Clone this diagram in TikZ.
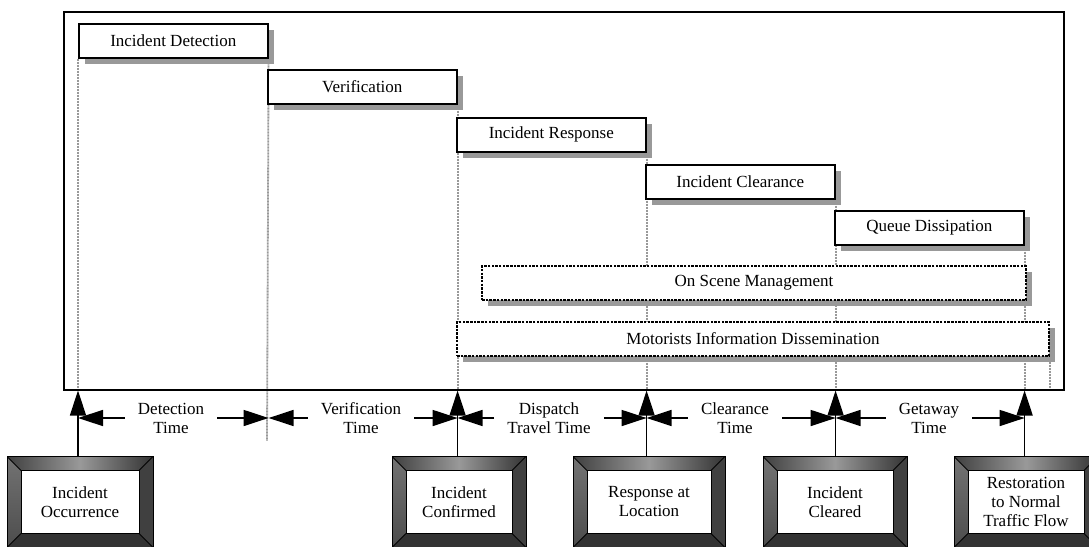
\documentclass[tikz,border=0pt]{standalone}
\usepackage{fontspec}
\setmainfont{Liberation Serif}
\usepackage{tikz}
\usetikzlibrary{arrows.meta}
\usetikzlibrary{calc}
\usetikzlibrary{shadows}
\usetikzlibrary{backgrounds}
\tikzstyle{phase}=[draw, line width=1.6pt, fill=white, minimum width=189pt, minimum height=34pt, anchor=north west, inner sep=0pt, drop shadow={shadow xshift=6pt, shadow yshift=-6pt, fill=black!40, opacity=1}]
\tikzstyle{dphase}=[phase, line width=2pt, dash pattern=on 2.5pt off 1.2pt]
\tikzstyle{evline}=[draw=black!40, line width=1.8pt, dash pattern=on 1pt off 0.5pt]
\tikzstyle{timearrow}=[line width=1.5pt, -{Triangle[length=25pt, width=16pt]}]
\tikzstyle{spanlabel}=[align=center, inner xsep=13pt, inner ysep=0pt]
\tikzstyle{milestone}=[draw, line width=1pt, fill=white, anchor=north, minimum height=91pt, align=center, path picture={
    \coordinate (nw) at (path picture bounding box.north west);
    \coordinate (ne) at (path picture bounding box.north east);
    \coordinate (se) at (path picture bounding box.south east);
    \coordinate (sw) at (path picture bounding box.south west);
    \shade[left color=black!75, right color=black!80, middle color=black!40] (nw) -- (ne) -- ($(ne)+(-14pt,-14pt)$) -- ($(nw)+(14pt,-14pt)$) -- cycle;
    \shade[top color=black!55, bottom color=black!70] (nw) -- ($(nw)+(14pt,-14pt)$) -- ($(sw)+(14pt,14pt)$) -- (sw) -- cycle;
    \fill[black!75] (ne) -- ($(ne)+(-14pt,-14pt)$) -- ($(se)+(-14pt,14pt)$) -- (se) -- cycle;
    \fill[black!80] (sw) -- ($(sw)+(14pt,14pt)$) -- ($(se)+(-14pt,14pt)$) -- (se) -- cycle;
    \draw[line width=1pt] ($(nw)+(14pt,-14pt)$) rectangle ($(se)+(-14pt,14pt)$);
    \draw[line width=1pt] (nw) -- ($(nw)+(14pt,-14pt)$);
    \draw[line width=1pt] (ne) -- ($(ne)+(-14pt,-14pt)$);
    \draw[line width=1pt] (se) -- ($(se)+(-14pt,14pt)$);
    \draw[line width=1pt] (sw) -- ($(sw)+(14pt,14pt)$);
}]

\begin{document}
\begin{tikzpicture}[x=1pt, y=-1pt, font=\fontsize{17}{19}\selectfont]
    \useasboundingbox (0,0) rectangle (1089,546);
    \node[draw, line width=1.5pt, minimum width=1000pt, minimum height=378pt, anchor=north west, inner sep=0pt] (frame) at (63,11) {};
    % phases
    \node[phase] (det) at (78,23) {Incident Detection};
    \node[phase] (ver) at (267,69) {Verification};
    \node[phase] (resp) at (456,117) {Incident Response};
    \node[phase] (clr) at (645,164) {Incident Clearance};
    \node[phase] (queue) at (834,210) {Queue Dissipation};
    \node[dphase, minimum width=544pt] (osm) at (481,265) {On Scene Management};
    \node[dphase, minimum width=592pt] (mid) at (456,321) {Motorists Information Dissemination};
    % time points on the frame
    \coordinate (t1) at (det.south west |- frame.south);
    \coordinate (t2) at (det.south east |- frame.south);
    \coordinate (t3) at (ver.south east |- frame.south);
    \coordinate (t4) at (resp.south east |- frame.south);
    \coordinate (t5) at (clr.south east |- frame.south);
    \coordinate (t6) at (queue.south east |- frame.south);
    \coordinate (t7) at (mid.south east |- frame.south);
    \coordinate (vend) at (267,441);
    \begin{pgfonlayer}{background}
        \draw[evline] (det.south west) -- (t1);
        \draw[evline] (det.south east) -- (vend);
        \draw[evline] (ver.south east) -- (t3);
        \draw[evline] (resp.south east) -- (t4);
        \draw[evline] (clr.south east) -- (t5);
        \draw[evline] (queue.south east) -- (t6);
        \draw[evline] (mid.south east) -- (t7);
    \end{pgfonlayer}
    % milestones
    \node[milestone, minimum width=146pt] (occ) at (80,456) {Incident\\Occurrence};
    \node[milestone, minimum width=134pt] (conf) at (459,456) {Incident\\Confirmed};
    \node[milestone, minimum width=152pt] (resl) at (649,456) {Response at\\Location};
    \node[milestone, minimum width=144pt] (clrd) at (835,456) {Incident\\Cleared};
    \node[milestone, minimum width=144pt] (rest) at (1026,456) {Restoration\\to Normal\\Traffic Flow};
    \draw[timearrow] (occ.north -| t1) -- (t1);
    \draw[timearrow] (conf.north -| t3) -- (t3);
    \draw[timearrow] (resl.north -| t4) -- (t4);
    \draw[timearrow] (clrd.north -| t5) -- (t5);
    \draw[timearrow] (rest.north -| t6) -- (t6);
    % durations
    \node[spanlabel] (dtime) at (171,418) {Detection\\Time};
    \node[spanlabel] (vtime) at (361,418) {Verification\\Time};
    \node[spanlabel] (ttime) at (549,418) {Dispatch\\Travel Time};
    \node[spanlabel] (ctime) at (735,418) {Clearance\\Time};
    \node[spanlabel] (gtime) at (929,418) {Getaway\\Time};
    \draw[timearrow] (dtime.west) -- (dtime.west -| t1);
    \draw[timearrow] (dtime.east) -- (dtime.east -| t2);
    \draw[timearrow] (vtime.west) -- (vtime.west -| t2);
    \draw[timearrow] (vtime.east) -- (vtime.east -| t3);
    \draw[timearrow] (ttime.west) -- (ttime.west -| t3);
    \draw[timearrow] (ttime.east) -- (ttime.east -| t4);
    \draw[timearrow] (ctime.west) -- (ctime.west -| t4);
    \draw[timearrow] (ctime.east) -- (ctime.east -| t5);
    \draw[timearrow] (gtime.west) -- (gtime.west -| t5);
    \draw[timearrow] (gtime.east) -- (gtime.east -| t6);
\end{tikzpicture}
\end{document}
